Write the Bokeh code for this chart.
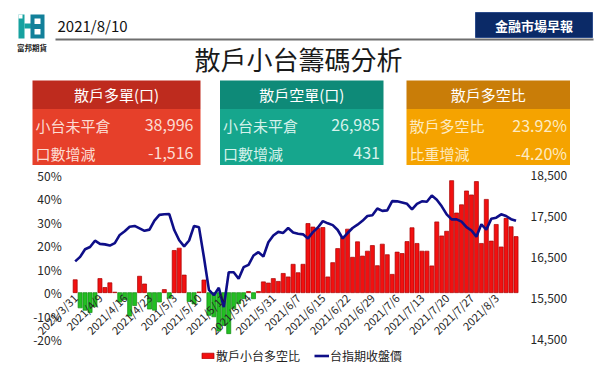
import math
from bokeh.plotting import figure
from bokeh.models import (Range1d, LinearAxis, FixedTicker, NumeralTickFormatter,
                          PrintfTickFormatter, Legend, LegendItem, ColumnDataSource)
from bokeh.core.properties import value
from bokeh.embed import file_html
from bokeh.resources import INLINE

FONT = "Noto Sans CJK TC"

# ---------------- data ----------------
report_date = "2021/8/10"
title_text = "散戶小台籌碼分析"
badge_text = "金融市場早報"
logo_text = "富邦期貨"

box_titles = ["散戶多單(口)", "散戶空單(口)", "散戶多空比"]
row1_labels = ["小台未平倉", "小台未平倉", "散戶多空比"]
row1_values = ["38,996", "26,985", "23.92%"]
row2_labels = ["口數增減", "口數增減", "比重增減"]
row2_values = ["-1,516", "431", "-4.20%"]

dates = ["2021/3/31", "2021/4/1", "2021/4/6", "2021/4/7", "2021/4/8", "2021/4/9",
         "2021/4/12", "2021/4/13", "2021/4/14", "2021/4/15", "2021/4/16",
         "2021/4/19", "2021/4/20", "2021/4/21", "2021/4/22", "2021/4/23",
         "2021/4/26", "2021/4/27", "2021/4/28", "2021/4/29", "2021/5/3",
         "2021/5/4", "2021/5/5", "2021/5/6", "2021/5/7", "2021/5/10",
         "2021/5/11", "2021/5/12", "2021/5/13", "2021/5/14", "2021/5/17",
         "2021/5/18", "2021/5/19", "2021/5/20", "2021/5/21", "2021/5/24",
         "2021/5/25", "2021/5/26", "2021/5/27", "2021/5/28", "2021/5/31",
         "2021/6/1", "2021/6/2", "2021/6/3", "2021/6/4", "2021/6/7",
         "2021/6/8", "2021/6/9", "2021/6/10", "2021/6/11", "2021/6/15",
         "2021/6/16", "2021/6/17", "2021/6/18", "2021/6/21", "2021/6/22",
         "2021/6/23", "2021/6/24", "2021/6/25", "2021/6/28", "2021/6/29",
         "2021/6/30", "2021/7/1", "2021/7/2", "2021/7/5", "2021/7/6",
         "2021/7/7", "2021/7/8", "2021/7/9", "2021/7/12", "2021/7/13",
         "2021/7/14", "2021/7/15", "2021/7/16", "2021/7/19", "2021/7/20",
         "2021/7/21", "2021/7/22", "2021/7/23", "2021/7/26", "2021/7/27",
         "2021/7/28", "2021/7/29", "2021/7/30", "2021/8/2", "2021/8/3",
         "2021/8/4", "2021/8/5", "2021/8/6", "2021/8/10"]

# 散戶小台多空比 (%)
ratio = [5.5, -6.5, -7.5, -8.5, -6.0, 6.0, 2.2, 4.2, 0.2, -4.0,
         -3.0, -10.0, -5.5, 7.0, 3.7, -7.0, -7.5, -4.0, 1.3, -2.4,
         18.0, 19.0, 7.5, -3.8, -4.8, 0.3, 5.4, -9.7, -10.3, -16.4,
         -14.0, -17.5, -6.8, -4.7, -2.6, 0.5, -2.6, 0.5, 4.6, 4.1,
         6.0, 4.8, 8.2, 6.7, 12.1, 8.5, 12.1, 29.5, 28.0, 27.4,
         27.8, 6.7, 12.8, 18.8, 23.5, 27.1, 15.1, 21.7, 15.6, 17.7,
         20.1, 11.5, 20.7, 16.2, 7.8, 17.3, 16.7, 21.8, 27.7, 21.0,
         17.7, 17.7, 11.4, 30.2, 24.2, 26.2, 47.8, 34.0, 37.5, 43.4,
         41.7, 47.4, 21.0, 39.8, 22.0, 29.1, 19.5, 31.7, 28.12, 23.92]

# 台指期收盤價
price = [16405, 16515, 16700, 16755, 16910, 16833, 16820, 16790, 16850, 17050,
         17140, 17250, 17270, 17210, 17150, 17180, 17400, 17540, 17555, 17560,
         17170, 16920, 16770, 16915, 17270, 17235, 16500, 15710, 15580, 15760,
         15290, 16140, 16140, 15980, 16264, 16322, 16549, 16630, 16525, 16873,
         17037, 17125, 17100, 17220, 17110, 17080, 17065, 16965, 17120, 17232,
         17386, 17333, 17290, 17170, 16964, 17097, 17220, 17300, 17394, 17512,
         17532, 17695, 17638, 17650, 17875, 17870, 17842, 17810, 17675, 17809,
         17870, 17858, 18012, 17910, 17748, 17552, 17430, 17430, 17374, 17240,
         17159, 17008, 17309, 17179, 17443, 17472, 17553, 17512, 17435, 17394]

left_ticks = [-20, -10, 0, 10, 20, 30, 40, 50]
right_ticks = [14500, 15500, 16500, 17500, 18500]
series_names = ["散戶小台多空比", "台指期收盤價"]
label_every = 5

# ---------------- page geometry (page pixels) ----------------
PX0, PX1, PY0, PY1 = 0, 594, 0, 366             # canvas on the page
FX0, FX1, FY0, FY1 = 72.2, 518.0, 175.0, 339.0  # chart plotting area on the page
L_MIN, L_MAX = left_ticks[0], left_ticks[-1]
R_MIN, R_MAX = right_ticks[0], right_ticks[-1]
n = len(ratio)

kx = n / (FX1 - FX0)
cx_range = Range1d(-0.5 - (FX0 - PX0) * kx, (n - 0.5) + (PX1 - FX1) * kx)
ky = (L_MAX - L_MIN) / (FY1 - FY0)
cy_range = Range1d(L_MIN - (PY1 - FY1) * ky, L_MAX + (FY0 - PY0) * ky)
kp = (R_MAX - R_MIN) / (FY1 - FY0)
py_range = Range1d(R_MIN - (PY1 - FY1) * kp, R_MAX + (FY0 - PY0) * kp)

p = figure(width=PX1 - PX0, height=PY1 - PY0,
           x_range=Range1d(PX0, PX1), y_range=Range1d(PY1, PY0),
           x_axis_type=None, y_axis_type=None, toolbar_location=None,
           output_backend="svg", min_border=0, outline_line_color=None)
p.min_border_left = p.min_border_right = p.min_border_top = p.min_border_bottom = 0
p.extra_x_ranges = {"cx": cx_range}
p.extra_y_ranges = {"cy": cy_range, "py": py_range}

# ---------------- header ----------------
teal = "#17A2A0"
dteal = "#12809A"
p.quad(left=[18, 24, 30], right=[24, 31, 44], top=[14, 23, 14], bottom=[38, 28, 38],
       fill_color=[teal, teal, dteal], line_color=None)
p.quad(left=[34, 34], right=[40, 40], top=[18, 28.5], bottom=[23.5, 34],
       fill_color="white", line_color=None)
p.quad(left=[18], right=[22], top=[14], bottom=[18], fill_color="white", line_color=None)
p.text(x=[31.5], y=[46.5], text=[logo_text], text_font=value(FONT),
       text_font_size=value("7.5px"), text_font_style="bold", text_color="#222222",
       text_align="center", text_baseline="middle")

p.text(x=[57], y=[25], text=[report_date], text_font=value(FONT),
       text_font_size=value("15px"), text_color="#111111",
       text_align="left", text_baseline="middle")
p.segment(x0=[55], y0=[39], x1=[593], y1=[39], line_width=2, line_color="#6E6E6E")

p.quad(left=[475], right=[592], top=[12], bottom=[37], fill_color="#0B2A67",
       line_color="#2B4B8B", line_width=1)
p.text(x=[533.5], y=[25], text=[badge_text], text_font=value(FONT),
       text_font_size=value("13px"), text_font_style="bold", text_color="white",
       text_align="center", text_baseline="middle")

p.text(x=[298], y=[58], text=[title_text], text_font=value(FONT),
       text_font_size=value("26px"), text_color="#1A1A1A",
       text_align="center", text_baseline="middle")

box_left = [32, 219.5, 406]
box_right = [200, 383, 569.5]
head_col = ["#BE2B1E", "#0E8A78", "#C97D08"]
body_col = ["#E6402A", "#16A68D", "#F5A300"]
row_txt = ["#FCDCD3", "#D6F2EC", "#FDEBC2"]
val_inset = [7, 3.5, 3]
for k in range(3):
    l = box_left[k]
    r = box_right[k]
    p.quad(left=[l], right=[r], top=[80], bottom=[108.5], fill_color=head_col[k], line_color=None)
    p.quad(left=[l], right=[r], top=[108.5], bottom=[164.5], fill_color=body_col[k], line_color=None)
    p.text(x=[(l + r) / 2], y=[94], text=[box_titles[k]], text_font=value(FONT),
           text_font_size=value("15px"), text_color="white",
           text_align="center", text_baseline="middle")
    p.text(x=[l + 3, l + 3], y=[124.5, 152.5], text=[row1_labels[k], row2_labels[k]],
           text_font=value(FONT), text_font_size=value("15px"), text_color=row_txt[k],
           text_align="left", text_baseline="middle")
    p.text(x=[r - val_inset[k]] * 2, y=[124.5, 152.5], text=[row1_values[k], row2_values[k]],
           text_font=value(FONT), text_font_size=value("16px"), text_color=row_txt[k],
           text_align="right", text_baseline="middle")

# ---------------- chart ----------------
src = ColumnDataSource(dict(
    x=list(range(n)), ratio=ratio, price=price,
    fill=["#F21010" if v >= 0 else "#22BF22" for v in ratio],
    edge=["#A80000" if v >= 0 else "#118A11" for v in ratio],
))

bars = p.vbar(x="x", top="ratio", bottom=0, width=0.82, fill_color="fill",
              line_color="edge", line_width=0.7, source=src,
              x_range_name="cx", y_range_name="cy")
ln = p.line(x="x", y="price", line_color="#0E0E88", line_width=2.6, source=src,
            x_range_name="cx", y_range_name="py")

ya = LinearAxis(y_range_name="cy", ticker=FixedTicker(ticks=left_ticks),
                formatter=PrintfTickFormatter(format="%d%%"), fixed_location=FX0)
p.add_layout(ya, "left")
ra = LinearAxis(y_range_name="py", ticker=FixedTicker(ticks=right_ticks),
                formatter=NumeralTickFormatter(format="0,0"), fixed_location=FX1)
p.add_layout(ra, "right")

tick_idx = list(range(0, n, label_every))
xa = LinearAxis(x_range_name="cx", y_range_name="cy", ticker=FixedTicker(ticks=tick_idx),
                major_label_overrides={i: dates[i] for i in tick_idx}, fixed_location=0)
p.add_layout(xa, "below")
xa.major_label_orientation = math.pi / 4

for ax, sz, so in ((ya, "12px", 11), (ra, "12px", 12), (xa, "11px", 3)):
    ax.axis_line_color = None
    ax.major_tick_line_color = None
    ax.minor_tick_line_color = None
    ax.major_tick_out = 0
    ax.major_tick_in = 0
    ax.major_label_standoff = so
    ax.major_label_text_font = FONT
    ax.major_label_text_font_size = sz
    ax.major_label_text_color = "#262626"

legend = Legend(items=[LegendItem(label=series_names[0], renderers=[bars], index=0),
                       LegendItem(label=series_names[1], renderers=[ln])],
                location=(200, 2), orientation="horizontal",
                glyph_width=15, glyph_height=7, label_height=10, label_standoff=1,
                spacing=14, padding=0, margin=0, background_fill_alpha=0,
                border_line_color=None, label_text_font=FONT,
                label_text_font_size="12px", label_text_color="#222222")
p.add_layout(legend)

open("out.html", "w").write(file_html(p, INLINE))
